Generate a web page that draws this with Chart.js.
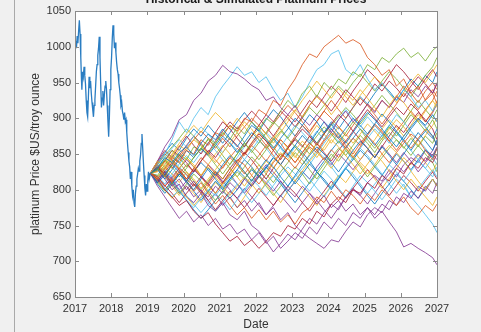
<!DOCTYPE html>
<html>
<head>
<meta charset="utf-8">
<script src="https://cdn.jsdelivr.net/npm/chart.js@4.4.1/dist/chart.umd.min.js"></script>
<style>
  html, body { margin: 0; padding: 0; background: #f0f0f0; overflow: hidden; }
  #wrap { position: relative; width: 481px; height: 332px; }
  #edge { position: absolute; left: 14px; top: 0; width: 1px; height: 332px; background: #a9a9a9; }
  canvas { position: absolute; left: 0; top: 0; }
</style>
</head>
<body>
<div id="wrap"><div id="edge"></div><canvas id="chart" width="481" height="332"></canvas></div>
<script>
// === Historical & Simulated Platinum Prices ===

var titleText = 'Historical & Simulated Platinum Prices';
var xTitle = 'Date';
var yTitle = 'platinum Price $US/troy ounce';

var yearTicks = [2017, 2018, 2019, 2020, 2021, 2022, 2023, 2024, 2025, 2026, 2027];
var priceTicks = [650, 700, 750, 800, 850, 900, 950, 1000, 1050];

// historical prices
var histDates = [2017.00, 2017.02, 2017.04, 2017.06, 2017.08, 2017.10, 2017.12, 2017.14, 2017.16, 2017.18,
  2017.19, 2017.21, 2017.23, 2017.25, 2017.27, 2017.29, 2017.31, 2017.33, 2017.35, 2017.37,
  2017.39, 2017.41, 2017.43, 2017.45, 2017.47, 2017.49, 2017.51, 2017.53, 2017.55, 2017.57,
  2017.59, 2017.61, 2017.63, 2017.65, 2017.67, 2017.69, 2017.71, 2017.73, 2017.75, 2017.77,
  2017.79, 2017.81, 2017.83, 2017.85, 2017.87, 2017.89, 2017.91, 2017.93, 2017.95, 2017.97,
  2017.99, 2018.01, 2018.03, 2018.05, 2018.07, 2018.09, 2018.11, 2018.13, 2018.15, 2018.17,
  2018.19, 2018.21, 2018.23, 2018.25, 2018.27, 2018.29, 2018.31, 2018.33, 2018.35, 2018.37,
  2018.39, 2018.41, 2018.43, 2018.45, 2018.47, 2018.49, 2018.51, 2018.53, 2018.55, 2018.57,
  2018.59, 2018.61, 2018.63, 2018.65, 2018.67, 2018.69, 2018.71, 2018.73, 2018.75, 2018.77,
  2018.79, 2018.81, 2018.83, 2018.85, 2018.87, 2018.89, 2018.91, 2018.93, 2018.95, 2018.97,
  2018.99, 2019.01, 2019.03, 2019.05, 2019.08];
var histPrices = [1000, 1008, 998, 1015, 1005, 1022, 1037, 1018, 985, 952,
  940, 965, 958, 972, 960, 948, 925, 908, 902, 930,
  958, 942, 952, 935, 922, 912, 902, 918, 926, 945,
  965, 975, 988, 998, 1014, 985, 948, 915, 928, 938,
  918, 932, 945, 952, 940, 918, 895, 874, 902, 940,
  968, 985, 1012, 1030, 1018, 998, 1006, 992, 978, 968,
  962, 950, 942, 932, 918, 922, 910, 905, 898, 908,
  895, 898, 880, 865, 852, 840, 832, 815, 825, 805,
  792, 800, 782, 776, 795, 805, 815, 822, 830, 826,
  840, 848, 865, 878, 858, 838, 820, 802, 792, 808,
  798, 812, 825, 815, 823];

// simulated paths, one value per date below
var simDates = [2019.08, 2019.28, 2019.48, 2019.68, 2019.88, 2020.08, 2020.28, 2020.48, 2020.68, 2020.88,
  2021.08, 2021.28, 2021.48, 2021.68, 2021.88, 2022.08, 2022.28, 2022.48, 2022.68, 2022.88,
  2023.08, 2023.28, 2023.48, 2023.68, 2023.88, 2024.08, 2024.28, 2024.48, 2024.68, 2024.88,
  2025.08, 2025.28, 2025.48, 2025.68, 2025.88, 2026.08, 2026.28, 2026.48, 2026.68, 2026.88, 2027.0];

var simPaths = [
  [823,830,845,838,852,860,848,865,878,870,885,872,860,875,890,882,870,858,872,885,900,890,905,895,880,892,878,865,880,895,908,898,885,872,860,875,888,900,890,905,895],
  [823,815,830,845,838,855,850,870,862,880,875,890,882,900,895,912,905,925,918,940,955,975,990,985,1000,1008,1016,1005,1010,1004,985,975,960,968,945,955,935,945,925,935,920],
  [823,840,832,848,862,855,870,862,850,838,852,866,880,895,885,870,858,872,888,900,912,902,918,930,920,905,918,935,925,940,928,915,902,918,932,922,908,895,910,925,915],
  [823,840,860,875,898,905,925,935,952,960,974,965,962,955,946,940,925,930,915,905,918,900,890,905,895,880,898,910,895,905,920,908,925,915,930,922,940,930,945,935,950],
  [823,830,818,835,850,842,860,855,872,865,880,870,888,878,895,885,900,892,910,925,915,935,945,930,950,940,955,948,965,958,975,968,985,978,990,998,985,992,980,995,1000],
  [823,835,850,870,895,880,900,915,905,930,945,958,972,960,965,950,958,940,925,935,915,930,950,968,975,990,995,968,960,975,955,940,950,935,925,940,930,915,925,910,920],
  [823,815,800,790,778,785,770,760,768,752,740,728,735,722,730,718,728,740,735,750,745,760,752,770,762,780,790,782,800,795,810,802,820,812,830,822,838,830,845,838,850],
  [823,810,822,835,825,812,800,815,830,820,835,848,838,825,812,828,842,832,818,805,820,835,848,860,850,838,825,840,855,868,858,845,860,848,835,850,865,880,868,855,870],
  [823,835,820,810,825,812,798,810,795,780,792,778,765,775,760,772,758,770,755,765,752,768,775,790,782,798,785,800,792,780,795,785,800,790,778,790,775,765,778,770,780],
  [823,815,828,840,830,845,835,820,832,818,805,792,805,818,808,795,810,822,835,825,812,826,840,852,842,830,845,858,848,835,822,835,850,862,852,840,826,812,800,815,805],
  [823,810,820,805,815,800,812,798,790,805,795,810,800,815,805,820,810,798,812,800,790,805,795,780,792,775,785,770,780,765,775,760,770,755,741,720,725,718,712,705,695],
  [823,828,842,855,845,832,845,858,870,862,848,835,850,865,855,842,856,870,882,872,860,848,862,875,888,878,865,880,895,885,870,858,872,888,875,890,905,895,882,898,885],
  [823,815,802,790,800,786,775,788,800,792,805,818,808,795,782,795,808,820,810,798,812,825,815,802,790,805,818,830,822,808,795,808,820,835,825,812,826,840,830,818,832],
  [823,832,820,835,848,838,825,840,855,845,860,872,862,850,865,878,868,855,842,858,872,885,875,862,878,892,905,895,882,898,912,900,888,902,915,905,920,910,895,908,920],
  [823,828,815,828,842,855,845,858,848,862,875,865,852,866,880,870,858,872,860,848,862,876,865,880,895,885,872,886,900,890,878,892,906,895,882,870,885,898,888,875,862],
  [823,818,805,815,830,822,808,795,810,825,815,830,842,835,820,808,822,838,850,842,830,845,860,852,868,880,872,858,845,860,875,865,850,838,852,865,878,870,855,842,858],
  [823,812,800,788,800,790,778,790,805,795,808,822,835,825,812,826,840,830,845,858,848,835,850,865,855,870,860,848,835,822,836,850,840,826,812,800,815,802,790,778,790],
  [823,805,790,775,760,770,755,765,750,760,745,752,738,745,730,740,725,735,718,728,740,732,748,738,755,745,760,750,768,760,775,765,780,772,790,782,798,788,805,795,810],
  [823,810,798,810,795,808,822,812,798,785,798,812,825,815,830,820,805,792,805,818,832,822,808,822,836,850,840,855,845,832,818,832,845,858,870,860,848,862,850,838,825],
  [823,832,845,858,870,860,875,888,878,865,852,866,855,842,856,870,858,845,860,875,890,880,868,882,870,885,898,912,900,888,902,890,878,865,880,868,855,842,830,845,835],
  [823,818,806,795,782,795,808,798,785,772,785,798,788,775,788,802,790,778,792,805,795,782,770,785,798,812,800,788,802,815,828,818,805,792,806,820,810,798,812,825,815],
  [823,808,795,808,822,812,825,838,828,815,802,815,828,842,832,818,830,845,835,822,808,822,836,825,812,800,815,830,842,855,845,832,820,835,850,840,828,842,856,845,858],
  [823,836,850,842,828,815,830,845,835,822,808,820,835,850,862,852,840,855,870,860,875,890,880,895,910,900,888,875,890,905,920,910,925,915,930,945,935,922,938,950,940],
  [823,818,832,822,810,825,815,802,815,828,842,830,818,805,820,835,825,840,852,842,855,868,858,845,860,875,888,878,865,878,892,882,870,885,898,888,875,862,876,890,900],
  [823,830,815,800,808,790,782,795,778,770,782,765,758,770,750,742,728,713,725,738,730,745,760,752,768,780,772,790,800,792,810,820,812,828,818,835,845,838,855,848,860],
  [823,820,835,848,838,825,812,800,812,826,815,830,818,832,846,835,822,810,825,838,852,842,828,815,830,845,858,848,862,876,865,852,868,880,870,858,872,860,875,865,880],
  [823,815,828,818,805,792,780,768,780,795,785,772,786,800,815,805,792,806,820,832,822,810,798,812,826,815,802,790,805,820,810,798,786,800,815,805,790,802,815,828,818],
  [823,840,855,845,860,875,862,850,865,880,895,885,872,860,875,890,905,895,910,900,888,902,918,932,922,910,925,940,930,918,932,948,938,952,942,930,945,958,948,935,948],
  [823,832,822,808,822,810,798,785,798,812,800,815,828,818,805,818,832,820,808,795,782,796,810,825,815,802,816,830,818,805,792,780,795,808,822,812,800,788,802,815,805],
  [823,830,822,810,822,835,825,840,852,842,830,845,835,822,835,848,862,875,865,850,838,852,865,855,842,856,845,860,872,862,876,890,880,868,855,870,858,872,885,875,862],
  [823,825,838,850,865,878,890,880,895,908,898,885,900,888,875,890,878,865,880,895,910,925,938,952,940,928,942,930,918,932,945,958,948,935,922,936,950,962,950,965,975],
  [823,812,825,808,795,805,790,800,785,795,778,790,775,785,770,782,765,775,758,768,750,740,732,725,718,730,727,742,755,748,765,775,768,785,778,795,788,805,798,815,805],
  [823,835,848,860,872,885,875,862,850,865,878,890,880,866,852,866,880,895,885,872,886,900,915,905,918,932,945,935,950,962,950,938,952,965,955,942,930,945,960,972,985],
  [823,820,808,822,836,848,838,852,866,855,842,830,845,860,875,865,880,870,858,845,860,848,835,850,865,878,868,855,842,858,872,885,875,890,905,895,882,870,858,845,858],
  [823,812,825,838,828,815,805,818,808,795,810,825,840,852,842,828,815,830,845,858,870,860,875,865,852,840,855,868,882,870,858,845,860,875,890,880,895,908,898,885,870],
  [823,812,800,812,798,785,772,760,772,785,798,788,800,815,828,818,832,845,835,850,862,852,840,826,840,855,868,858,872,885,875,862,876,890,880,868,855,870,882,872,885],
  [823,826,840,830,845,858,870,882,872,858,872,860,875,888,900,890,878,892,905,918,908,895,882,896,910,925,912,900,915,928,918,905,892,906,920,935,925,912,926,940,930],
  [823,838,828,842,856,845,832,820,835,850,862,850,838,852,866,880,868,855,870,858,845,860,875,890,878,865,880,868,855,842,856,870,885,898,888,875,890,905,895,910,925],
  [823,812,826,815,800,812,828,818,835,825,810,822,808,795,808,822,835,825,812,798,812,826,815,832,845,835,850,840,828,842,855,845,862,850,838,852,840,825,838,850,842],
  [823,830,842,832,818,830,845,858,848,835,822,836,850,862,875,885,872,860,846,860,872,862,850,865,878,890,902,915,905,892,905,918,932,920,908,895,910,925,912,900,912],
  [823,818,830,842,832,820,808,795,782,770,782,795,808,798,812,825,815,802,790,805,818,830,842,855,845,832,818,832,845,858,848,835,822,808,795,808,790,778,765,752,740],
  [823,828,840,855,848,862,875,865,852,868,882,895,885,898,910,900,888,875,890,905,895,910,925,915,930,945,935,922,938,952,968,958,945,960,975,965,952,940,955,968,958],
  [823,838,852,865,855,872,885,875,890,878,865,880,895,908,895,882,898,912,902,888,875,890,878,865,880,895,885,900,915,930,920,935,948,938,925,940,955,945,960,950,965],
  [823,835,825,812,826,815,830,818,805,818,832,845,858,848,862,875,862,848,835,850,838,852,866,855,870,885,875,862,850,865,878,892,882,868,882,895,910,898,912,925,938],
  [823,830,818,805,792,805,795,782,796,810,800,788,775,790,805,818,808,795,782,798,812,802,790,778,792,806,820,810,825,838,828,815,802,816,830,845,835,848,838,825,838],
  [823,815,805,818,830,842,832,820,808,822,812,800,788,802,790,778,765,778,792,780,768,782,795,785,772,760,775,790,802,792,780,795,810,822,835,825,838,850,840,855,868]
];

// MATLAB default line colours, softened a little
var palette = ['rgba(0,114,189,0.8)', 'rgba(217,83,25,0.8)', 'rgba(237,177,32,0.8)', 'rgba(126,47,142,0.8)',
  'rgba(119,172,48,0.8)', 'rgba(77,190,238,0.8)', 'rgba(162,20,47,0.8)'];

function toPoints(xs, ys) {
  return ys.map(function(v, i) { return { x: xs[i], y: v }; });
}

var datasets = [{
  data: toPoints(histDates, histPrices),
  borderColor: '#2a7dc2',
  borderWidth: 1.3
}];
simPaths.forEach(function(path, k) {
  datasets.push({
    data: toPoints(simDates, path),
    borderColor: palette[k % palette.length],
    borderWidth: 1
  });
});

// white plot area, box with inward ticks, clipped title
var axesBox = {
  id: 'axesBox',
  beforeDatasetsDraw: function(chart) {
    var a = chart.chartArea, ctx = chart.ctx;
    ctx.save();
    ctx.fillStyle = '#ffffff';
    ctx.fillRect(a.left, a.top, a.right - a.left, a.bottom - a.top);
    ctx.restore();
  },
  afterDatasetsDraw: function(chart) {
    var a = chart.chartArea, ctx = chart.ctx;
    var xs = chart.scales.x, ys = chart.scales.y;
    var tl = 4;
    ctx.save();
    ctx.strokeStyle = '#8a8a8a';
    ctx.lineWidth = 1;
    ctx.strokeRect(Math.round(a.left) + 0.5, Math.round(a.top) + 0.5,
      Math.round(a.right - a.left), Math.round(a.bottom - a.top));
    ctx.beginPath();
    yearTicks.forEach(function(v) {
      var px = Math.round(xs.getPixelForValue(v)) + 0.5;
      ctx.moveTo(px, a.bottom); ctx.lineTo(px, a.bottom - tl);
      ctx.moveTo(px, a.top); ctx.lineTo(px, a.top + tl);
    });
    priceTicks.forEach(function(v) {
      var py = Math.round(ys.getPixelForValue(v)) + 0.5;
      ctx.moveTo(a.left, py); ctx.lineTo(a.left + tl, py);
      ctx.moveTo(a.right, py); ctx.lineTo(a.right - tl, py);
    });
    ctx.stroke();
    ctx.restore();
  },
  afterDraw: function(chart) {
    var a = chart.chartArea, ctx = chart.ctx;
    ctx.save();
    ctx.font = 'bold 12px "Liberation Sans", Arial, sans-serif';
    ctx.fillStyle = '#1a1a1a';
    ctx.textAlign = 'center';
    ctx.textBaseline = 'alphabetic';
    ctx.fillText(titleText, (a.left + a.right) / 2, 3);
    ctx.restore();
  }
};

Chart.defaults.font.family = '"Liberation Sans", Arial, sans-serif';
Chart.defaults.color = '#333333';

new Chart(document.getElementById('chart').getContext('2d'), {
  type: 'line',
  data: { datasets: datasets },
  options: {
    responsive: false,
    animation: false,
    devicePixelRatio: 1,
    elements: { point: { radius: 0 }, line: { tension: 0 } },
    plugins: { legend: { display: false }, tooltip: { enabled: false } },
    layout: { padding: { left: 28, right: 44, top: 11, bottom: 0 } },
    scales: {
      x: {
        type: 'linear',
        min: 2017,
        max: 2027,
        grid: { display: false, drawTicks: false },
        border: { display: false },
        afterBuildTicks: function(scale) {
          scale.ticks = yearTicks.map(function(v) { return { value: v }; });
        },
        ticks: {
          padding: 5,
          maxRotation: 0,
          font: { size: 11 },
          callback: function(v) { return String(v); }
        },
        title: { display: true, text: xTitle, font: { size: 12 }, padding: { top: 0, bottom: 0 } },
        afterFit: function(scale) { scale.height = 35; }
      },
      y: {
        min: 650,
        max: 1050,
        grid: { display: false, drawTicks: false },
        border: { display: false },
        afterBuildTicks: function(scale) {
          scale.ticks = priceTicks.map(function(v) { return { value: v }; });
        },
        ticks: {
          padding: 4,
          font: { size: 11 },
          callback: function(v) { return String(v); }
        },
        title: { display: true, text: yTitle, font: { size: 12 }, padding: { top: 0, bottom: 0 } },
        afterFit: function(scale) { scale.width = 47; }
      }
    }
  },
  plugins: [axesBox]
});
</script>
</body>
</html>
